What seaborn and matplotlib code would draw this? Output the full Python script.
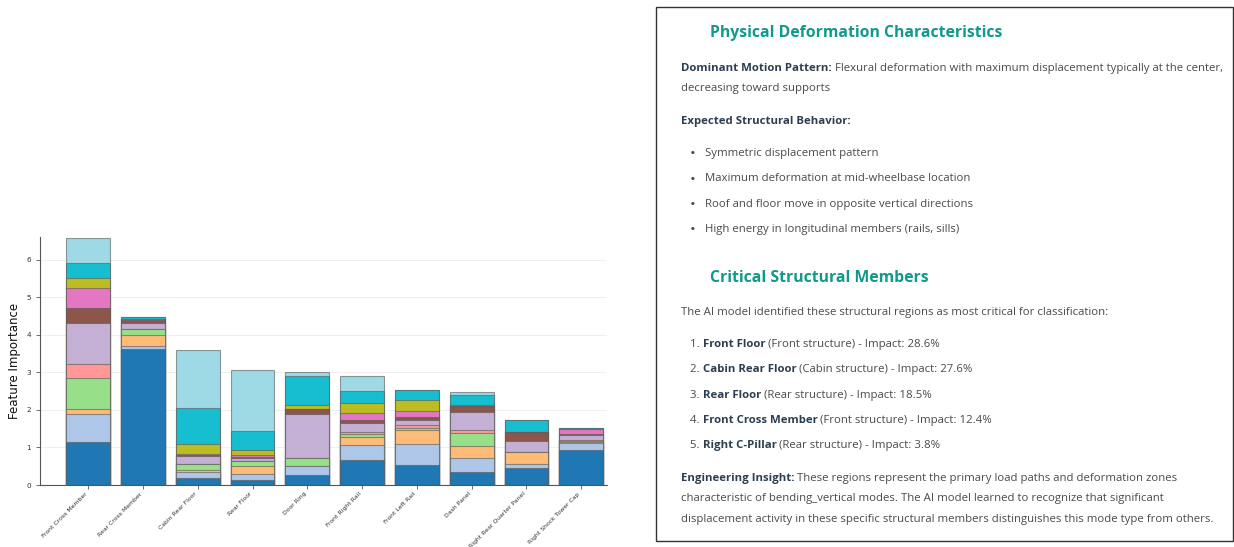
import pandas as pd
import matplotlib
matplotlib.use("Agg")
import matplotlib.pyplot as plt
import seaborn as sns
from matplotlib.patches import Rectangle

sns.set_theme(style="ticks")
plt.rcParams["font.family"] = ["DejaVu Sans"]

# ---- data -------------------------------------------------------------
members = ["Front Cross Member", "Rear Cross Member", "Cabin Rear Floor", "Rear Floor",
           "Door Ring", "Front Right Rail", "Front Left Rail", "Dash Panel",
           "Right Rear Quarter Panel", "Right Shock Tower Cap"]

# feature importance contributions per member, bottom of stack first
feat_01 = [1.145, 3.61, 0.19, 0.12, 0.27, 0.655, 0.54, 0.355, 0.46, 0.94]
feat_02 = [0.735, 0.09, 0.15, 0.16, 0.23, 0.40, 0.54, 0.365, 0.10, 0.18]
feat_03 = [0.14, 0.29, 0.06, 0.22, 0.00, 0.215, 0.39, 0.33, 0.32, 0.02]
feat_04 = [0.83, 0.15, 0.15, 0.14, 0.22, 0.08, 0.04, 0.335, 0.00, 0.04]
feat_05 = [0.37, 0.00, 0.00, 0.00, 0.00, 0.05, 0.09, 0.08, 0.00, 0.03]
feat_06 = [1.08, 0.17, 0.21, 0.07, 1.17, 0.25, 0.13, 0.47, 0.29, 0.12]
feat_07 = [0.41, 0.08, 0.03, 0.03, 0.14, 0.08, 0.08, 0.16, 0.24, 0.03]
feat_08 = [0.53, 0.02, 0.04, 0.06, 0.00, 0.19, 0.17, 0.00, 0.00, 0.12]
feat_09 = [0.26, 0.00, 0.27, 0.14, 0.09, 0.27, 0.27, 0.03, 0.00, 0.00]
feat_10 = [0.41, 0.05, 0.94, 0.50, 0.78, 0.31, 0.28, 0.27, 0.33, 0.04]
feat_11 = [0.66, 0.00, 1.56, 1.61, 0.11, 0.40, 0.00, 0.07, 0.00, 0.00]

feat_names = ["f01", "f02", "f03", "f04", "f05", "f06", "f07", "f08", "f09", "f10", "f11"]
feat_values = [feat_01, feat_02, feat_03, feat_04, feat_05, feat_06,
               feat_07, feat_08, feat_09, feat_10, feat_11]
feat_colors = ["#1f77b4", "#aec7e8", "#ffbb78", "#98df8a", "#ff9896", "#c5b0d5",
               "#8c564b", "#e377c2", "#bcbd22", "#17becf", "#9edae5"]

# ---- figure -----------------------------------------------------------
W, H = 1234, 547
fig = plt.figure(figsize=(W / 100, H / 100), dpi=100)


def fx(px):
    return px / W


def fy(py):
    return 1 - py / H


ax = fig.add_axes([fx(40), fy(485), fx(607) - fx(40), fy(237) - fy(485)])

df = pd.DataFrame(dict(zip(feat_names, feat_values)), index=members)
cum = df.cumsum(axis=1)

# stacked bars: draw cumulative totals from the top layer down
for name, color in reversed(list(zip(feat_names, feat_colors))):
    sns.barplot(x=members, y=cum[name].values, order=members, color=color,
                saturation=1, width=0.8, errorbar=None, ax=ax,
                edgecolor=(0.35, 0.35, 0.35, 0.6), linewidth=0.8)

ax.set_xlim(-0.88, 9.47)
ax.set_ylim(0, 6.6)
ax.set_yticks(range(0, 7))
ax.yaxis.grid(True, color="#efefef", lw=0.8)
ax.xaxis.grid(False)
ax.set_axisbelow(True)
sns.despine(ax=ax)
for s in ["left", "bottom"]:
    ax.spines[s].set_color("#555555")
    ax.spines[s].set_linewidth(0.8)
ax.tick_params(length=3, width=0.6, color="#555555", labelcolor="#333333")
ax.tick_params(axis="y", labelsize=5.2)
ax.tick_params(axis="x", labelsize=4.4, pad=1.5)
plt.setp(ax.get_xticklabels(), rotation=45, ha="right")
ax.set_xlabel("")
ax.set_ylabel("Feature Importance", fontsize=8.5, color="#111111")

# ---- text panel -------------------------------------------------------
fig.add_artist(Rectangle((fx(656), fy(541)), fx(1233) - fx(656), fy(7) - fy(541),
                         transform=fig.transFigure, fill=False, ec="#333333", lw=1))

FONT = "Open Sans"
TEAL = "#11998c"
DARK = "#2c3e50"
BODY = "#4a4a4a"
renderer = fig.canvas.get_renderer()


def rich(x, y, parts, size=8.2):
    # parts: list of (text, bold, color) drawn on one baseline
    xpos = fx(x)
    for txt, bold, col in parts:
        t = fig.text(xpos, fy(y), txt, fontsize=size, family=FONT,
                     fontweight="bold" if bold else "normal", color=col, va="baseline")
        bb = t.get_window_extent(renderer)
        xpos = bb.x1 / W


def heading(x, y, txt):
    fig.text(fx(x), fy(y), txt, fontsize=11.3, family=FONT, fontweight="bold",
             color=TEAL, va="baseline")


heading(710, 37, "Physical Deformation Characteristics")
rich(681, 71, [("Dominant Motion Pattern:", True, DARK),
               (" Flexural deformation with maximum displacement typically at the center,", False, BODY)])
rich(681, 91, [("decreasing toward supports", False, BODY)])
rich(681, 124, [("Expected Structural Behavior:", True, DARK)])

bullets = ["Symmetric displacement pattern",
           "Maximum deformation at mid-wheelbase location",
           "Roof and floor move in opposite vertical directions",
           "High energy in longitudinal members (rails, sills)"]
for i, b in enumerate(bullets):
    yy = 156 + i * 25.3
    rich(690, yy + 2.5, [("\u2022", False, BODY)], size=11)
    rich(705, yy, [(b, False, BODY)])

heading(710, 282, "Critical Structural Members")
rich(681, 315, [("The AI model identified these structural regions as most critical for classification:", False, BODY)])

ranked = [("Front Floor", " (Front structure) - Impact: 28.6%"),
          ("Cabin Rear Floor", " (Cabin structure) - Impact: 27.6%"),
          ("Rear Floor", " (Rear structure) - Impact: 18.5%"),
          ("Front Cross Member", " (Front structure) - Impact: 12.4%"),
          ("Right C-Pillar", " (Rear structure) - Impact: 3.8%")]
for i, (nm, rest) in enumerate(ranked):
    yy = 347 + i * 25.3
    rich(690, yy, [(f"{i + 1}. ", False, BODY), (nm, True, DARK), (rest, False, BODY)])

rich(681, 481, [("Engineering Insight:", True, DARK),
                (" These regions represent the primary load paths and deformation zones", False, BODY)])
rich(681, 501, [("characteristic of bending_vertical modes. The AI model learned to recognize that significant", False, BODY)])
rich(681, 522, [("displacement activity in these specific structural members distinguishes this mode type from others.", False, BODY)])

fig.savefig("out.png", dpi=100)
